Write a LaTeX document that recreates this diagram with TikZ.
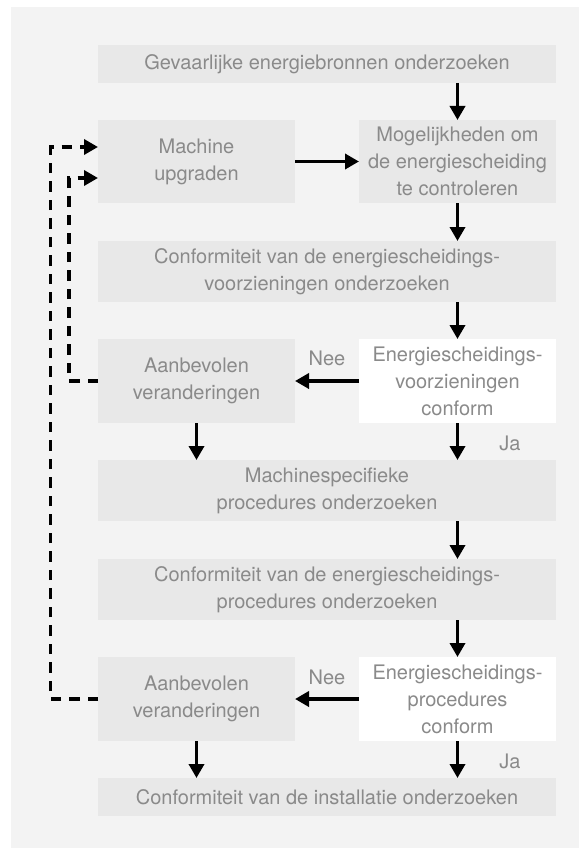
\documentclass[tikz,border=0pt]{standalone}
\usepackage{fontspec}
\setmainfont{TeX Gyre Heros}
\usetikzlibrary{arrows.meta,calc}
\definecolor{bgc}{RGB}{243,243,243}
\definecolor{boxc}{RGB}{232,232,232}
\definecolor{txtc}{RGB}{138,138,138}
\begin{document}
\begin{tikzpicture}[x=1pt,y=-1pt,
  box/.style={rectangle,inner sep=0pt,outer sep=0pt,align=center,text=txtc,
    font=\fontsize{20}{27}\selectfont},
  gbox/.style={box,fill=boxc},
  wbox/.style={box,fill=white},
  wide/.style={minimum width=458pt},
  half/.style={minimum width=197pt},
  arr/.style={line width=3.7pt,-{Triangle[length=14pt,width=15pt]}},
  darr/.style={line width=3.4pt,dash pattern=on 10.5pt off 8pt,-{Triangle[length=14pt,width=15pt]}},
  lbl/.style={text=txtc,inner sep=0pt,font=\fontsize{20}{24}\selectfont}]
\useasboundingbox (0,0) rectangle (579,848);
\fill[bgc] (11,7) rectangle (579,848);
\node[gbox,wide,minimum height=38pt] (b1) at (327,64) {Gevaarlijke energiebronnen onderzoeken};
\node[gbox,half,minimum height=83pt] (mach) at (196.5,161.5) {Machine\\upgraden};
\node[gbox,half,minimum height=83pt] (mog) at (457.5,161.5) {Mogelijkheden om\\de energiescheiding\\te controleren};
\node[gbox,wide,minimum height=61pt] (conf1) at (327,271.5) {Conformiteit van de energiescheidings-\\voorzieningen onderzoeken};
\node[gbox,half,minimum height=84pt] (aan1) at (196.5,381) {Aanbevolen\\veranderingen};
\node[wbox,half,minimum height=84pt] (ene1) at (457.5,381) {Energiescheidings-\\voorzieningen\\conform};
\node[gbox,wide,minimum height=61pt] (machsp) at (327,490.5) {Machinespecifieke\\procedures onderzoeken};
\node[gbox,wide,minimum height=61pt] (conf2) at (327,589.5) {Conformiteit van de energiescheidings-\\procedures onderzoeken};
\node[gbox,half,minimum height=84pt] (aan2) at (196.5,699) {Aanbevolen\\veranderingen};
\node[wbox,half,minimum height=84pt] (ene2) at (457.5,699) {Energiescheidings-\\procedures\\conform};
\node[gbox,wide,minimum height=38pt] (fin) at (327,797) {Conformiteit van de installatie onderzoeken};
\node[lbl] (nee1) at (327,358) {Nee};
\node[lbl] (ja1) at (510,443) {Ja};
\node[lbl] (nee2) at (327,677) {Nee};
\node[lbl] (ja2) at (510,761) {Ja};
\draw[arr] (b1.south -| mog.north) -- (mog.north);
\draw[arr] (mach.east) -- (mog.west);
\draw[arr] (mog.south) -- (conf1.north -| mog.south);
\draw[arr] (conf1.south -| ene1.north) -- (ene1.north);
\draw[arr] (ene1.west) -- (aan1.east);
\draw[arr] (aan1.south) -- (machsp.north -| aan1.south);
\draw[arr] (ene1.south) -- (machsp.north -| ene1.south);
\draw[arr] (machsp.south -| ene1.south) -- (conf2.north -| ene1.south);
\draw[arr] (conf2.south -| ene2.north) -- (ene2.north);
\draw[arr] (ene2.west) -- (aan2.east);
\draw[arr] (aan2.south) -- (fin.north -| aan2.south);
\draw[arr] (ene2.south) -- (fin.north -| ene2.south);
\draw[darr] (aan1.west) -- ++(-29,0) |- ([yshift=-16.5pt]mach.west);
\draw[darr] (aan2.west) -- ++(-47.5,0) |- ([yshift=14.5pt]mach.west);
\end{tikzpicture}
\end{document}
